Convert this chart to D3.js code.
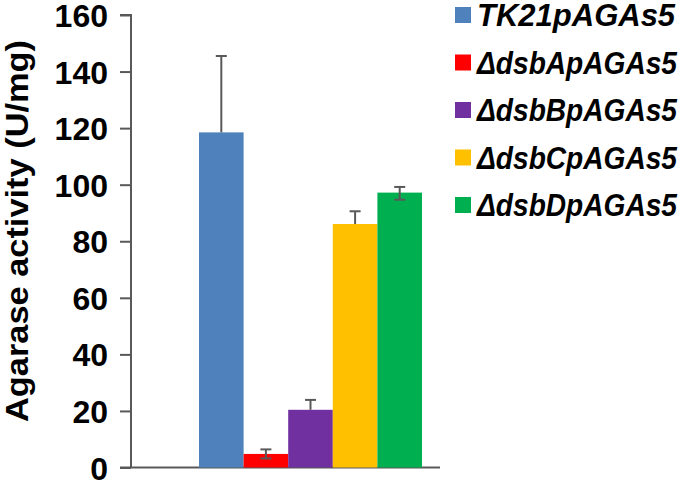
<!DOCTYPE html>
<html>
<head>
<meta charset="utf-8">
<script src="https://cdn.jsdelivr.net/npm/d3@7"></script>
<style>
  body { margin: 0; background: #fff; }
  svg text { font-family: "Liberation Sans", Arial, sans-serif; font-weight: bold; }
</style>
</head>
<body>
<svg id="canvas" width="685" height="480"></svg>
<script>
// data
var strains = ["TK21pAGAs5", "ΔdsbApAGAs5", "ΔdsbBpAGAs5", "ΔdsbCpAGAs5", "ΔdsbDpAGAs5"];
var activity = [118.5, 4.8, 20.4, 86.1, 97.2];
var errPlus = [27, 1.6, 3.5, 4.5, 2];
var errMinus = [0, 1.6, 0, 0, 2.5];
var colors = ["#4F81BD", "#FF0000", "#7030A0", "#FFC000", "#00B050"];
var yTicks = [0, 20, 40, 60, 80, 100, 120, 140, 160];

var svg = d3.select("#canvas");

var y = d3.scaleLinear().domain([0, 160]).range([467.5, 15]);
var x = d3.scaleBand().domain(strains).range([199, 422]).padding(0);

// y axis
var yAxis = d3.axisLeft(y).tickValues(yTicks).tickSize(11).tickPadding(12);
var gy = svg.append("g").attr("transform", "translate(131,0)").call(yAxis);
gy.select(".domain").attr("stroke", "#595959").attr("stroke-width", 2).attr("d", "M-11,15H0V467.5");
gy.selectAll(".tick line").attr("stroke", "#595959").attr("stroke-width", 2);
gy.selectAll(".tick text").attr("fill", "#000").style("font-size", "32px").attr("dy", "0.36em");

// baseline
svg.append("line")
    .attr("x1", 120).attr("x2", 440)
    .attr("y1", y(0)).attr("y2", y(0))
    .attr("stroke", "#595959").attr("stroke-width", 2);

svg.append("text")
    .attr("transform", "translate(28,231) rotate(-90)")
    .attr("text-anchor", "middle")
    .attr("textLength", 382)
    .attr("lengthAdjust", "spacingAndGlyphs")
    .style("font-size", "32px")
    .text("Agarase activity (U/mg)");

// bars
svg.selectAll("rect.bar").data(strains).enter().append("rect")
    .attr("class", "bar")
    .attr("x", function(d) { return x(d); })
    .attr("width", x.bandwidth())
    .attr("y", function(d, i) { return y(activity[i]); })
    .attr("height", function(d, i) { return y(0) - y(activity[i]); })
    .attr("fill", function(d, i) { return colors[i]; });

// error bars
strains.forEach(function(d, i) {
    var cx = x(d) + x.bandwidth() / 2;
    var top = y(activity[i] + errPlus[i]);
    var bot = y(activity[i] - errMinus[i]);
    var g = svg.append("g").attr("stroke", "#595959").attr("stroke-width", 2);
    g.append("line").attr("x1", cx).attr("x2", cx).attr("y1", top).attr("y2", bot);
    g.append("line").attr("x1", cx - 5.5).attr("x2", cx + 5.5).attr("y1", top).attr("y2", top);
    if (errMinus[i] > 0) {
        g.append("line").attr("x1", cx - 5.5).attr("x2", cx + 5.5).attr("y1", bot).attr("y2", bot);
    }
});

// legend
var leg = svg.selectAll("g.leg").data(strains).enter().append("g")
    .attr("class", "leg")
    .attr("transform", function(d, i) { return "translate(455," + (15 + i * 47.5) + ")"; });
leg.append("rect")
    .attr("x", 0).attr("y", -8).attr("width", 16).attr("height", 16)
    .attr("fill", function(d, i) { return colors[i]; });
leg.append("text")
    .attr("x", 22).attr("dy", "0.36em")
    .style("font-size", "31px").style("font-style", "italic")
    .text(function(d) { return d; })
    .each(function() {
        // keep the long labels inside the frame
        if (this.getComputedTextLength() > 200) {
            d3.select(this).attr("textLength", 200).attr("lengthAdjust", "spacingAndGlyphs");
        }
    });
</script>
</body>
</html>
